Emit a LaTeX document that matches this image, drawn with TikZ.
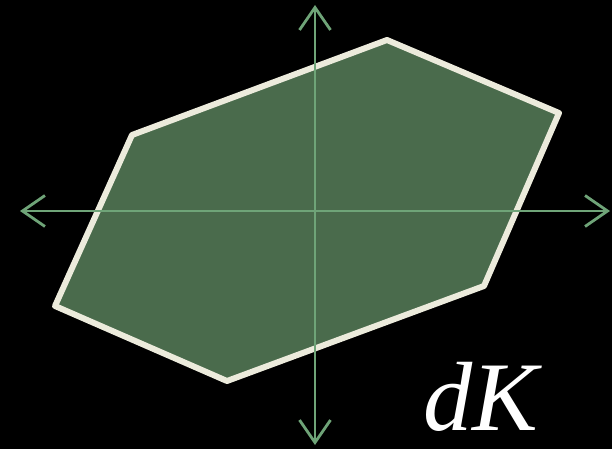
\documentclass[tikz,border=0pt]{standalone}
\usepackage{fontspec}
\usepackage{tikz}
\usetikzlibrary{arrows.meta}
\newfontfamily\labelfont{Liberation Serif}
\definecolor{bg}{HTML}{000000}
\definecolor{body}{HTML}{4A6B4C}
\definecolor{rim}{HTML}{ECEBDC}
\definecolor{axis}{HTML}{6FA478}

\begin{document}
\begin{tikzpicture}[x=0.02cm, y=-0.02cm,
  axisline/.style={axis, line width=1.6pt, {Straight Barb[length=4.5mm, width=6.2mm, line width=1.6pt]}-{Straight Barb[length=4.5mm, width=6.2mm, line width=1.6pt]}}]
  \fill[bg] (0,0) rectangle (612,449);
  \useasboundingbox (0,0) rectangle (612,449);
  % convex body
  \filldraw[fill=body, draw=rim, line width=3.4pt, line join=round]
    (132,135) -- (387,40) -- (559,113) -- (484,286) -- (227,381) -- (55,306) -- cycle;
  % axes
  \coordinate (west) at (20,211);
  \coordinate (east) at (610,211);
  \coordinate (north) at (315,5);
  \coordinate (south) at (315,445);
  \draw[axisline] (west) -- (east);
  \draw[axisline] (south) -- (north);
  \node[white, inner sep=0pt, font=\labelfont\itshape\fontsize{56}{56}\selectfont] (name) at (481,397) {dK};
\end{tikzpicture}
\end{document}
